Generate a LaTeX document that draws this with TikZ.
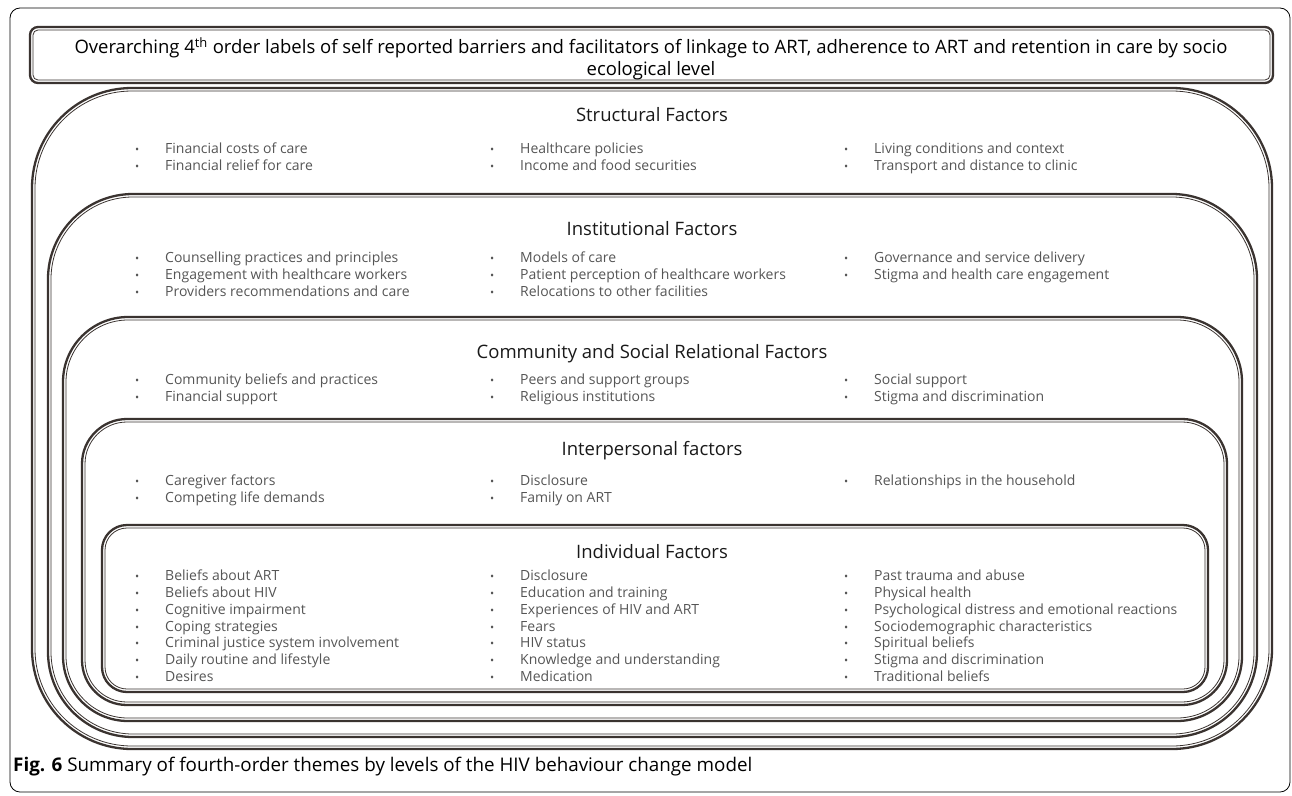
\documentclass[tikz,border=0pt]{standalone}
\usepackage{fontspec}
\setmainfont{Open Sans}
\usetikzlibrary{positioning}
\definecolor{framecol}{HTML}{3A3330}
\definecolor{itemcol}{HTML}{555555}
\tikzset{
      outerline/.style = {draw=framecol, line width=2.3pt},
      innerline/.style = {draw=framecol, line width=0.8pt},
      heading/.style = {font=\fontsize{18.5}{22}\selectfont, text=black!90, inner sep=0pt},
      entry/.style = {font=\fontsize{14}{16}\selectfont, text=itemcol, anchor=west, inner sep=0pt,
                      text height=10pt, text depth=3.5pt},
    }
% one column of bullet points: name, x, y of first row, items
\newcommand{\factorcol}[4]{%
  \foreach \txt [count=\i] in {#4}
    \node[entry] (#1-\i) at (#2, {#3+1.5+(\i-1)*16.75}) {\makebox[30pt][l]{\fontsize{11}{11}\selectfont\textbullet}\txt};
}

\begin{document}
\begin{tikzpicture}[x=1pt,y=-1pt]
          \useasboundingbox (0,0) rectangle (1292,795);
          \draw[black, line width=0.8pt, rounded corners=10] (10,8) rectangle (1290,792);

          % title box and the five nested levels
          \foreach \xa/\ya/\xb/\yb/\r in {30/27/1273/83/8, 32/88/1272/749/100,
              48/194/1257/737/85, 63/317/1242/721/65, 82/419/1227/705/45, 102/525/1208/692/25} {
            \draw[outerline, rounded corners=\r] (\xa,\ya) rectangle (\xb,\yb);
            \draw[innerline, rounded corners=\r-3] (\xa+3,\ya+3) rectangle (\xb-3,\yb-3);
          }

          \node[font=\fontsize{18.5}{22}\selectfont, align=center, inner sep=0pt] (title) at (651,59)
            {Overarching 4\textsuperscript{th} order labels of self reported barriers and facilitators of linkage to ART, adherence to ART and retention in care by socio\\ ecological level};

          \node[heading] (structural) at (652,115) {Structural Factors};
          \factorcol{str-a}{135}{149}{Financial costs of care, Financial relief for care}
          \factorcol{str-b}{490}{149}{Healthcare policies, Income and food securities}
          \factorcol{str-c}{844}{149}{Living conditions and context, Transport and distance to clinic}

          \node[heading] (institutional) at (652,229) {Institutional Factors};
          \factorcol{ins-a}{135}{258}{Counselling practices and principles, Engagement with healthcare workers, Providers recommendations and care}
          \factorcol{ins-b}{490}{258}{Models of care, Patient perception of healthcare workers, Relocations to other facilities}
          \factorcol{ins-c}{844}{258}{Governance and service delivery, Stigma and health care engagement}

          \node[heading] (community) at (652,354) {Community and Social Relational Factors};
          \factorcol{com-a}{135}{380}{Community beliefs and practices, Financial support}
          \factorcol{com-b}{490}{380}{Peers and support groups, Religious institutions}
          \factorcol{com-c}{844}{380}{Social support, Stigma and discrimination}

          \node[heading] (interpersonal) at (652,451) {Interpersonal factors};
          \factorcol{int-a}{135}{481}{Caregiver factors, Competing life demands}
          \factorcol{int-b}{490}{481}{Disclosure, Family on ART}
          \factorcol{int-c}{844}{481}{Relationships in the household}

          \node[heading] (individual) at (652,552) {Individual Factors};
          \factorcol{ind-a}{135}{576}{Beliefs about ART, Beliefs about HIV, Cognitive impairment, Coping strategies, Criminal justice system involvement, Daily routine and lifestyle, Desires}
          \factorcol{ind-b}{490}{576}{Disclosure, Education and training, Experiences of HIV and ART, Fears, HIV status, Knowledge and understanding, Medication}
          \factorcol{ind-c}{844}{576}{Past trauma and abuse, Physical health, Psychological distress and emotional reactions, Sociodemographic characteristics, Spiritual beliefs, Stigma and discrimination, Traditional beliefs}

          \node[anchor=west, inner sep=0pt, font=\fontsize{18.8}{21}\selectfont] (caption) at (13,767)
            {\textbf{Fig. 6} Summary of fourth-order themes by levels of the HIV behaviour change model};
\end{tikzpicture}
\end{document}
